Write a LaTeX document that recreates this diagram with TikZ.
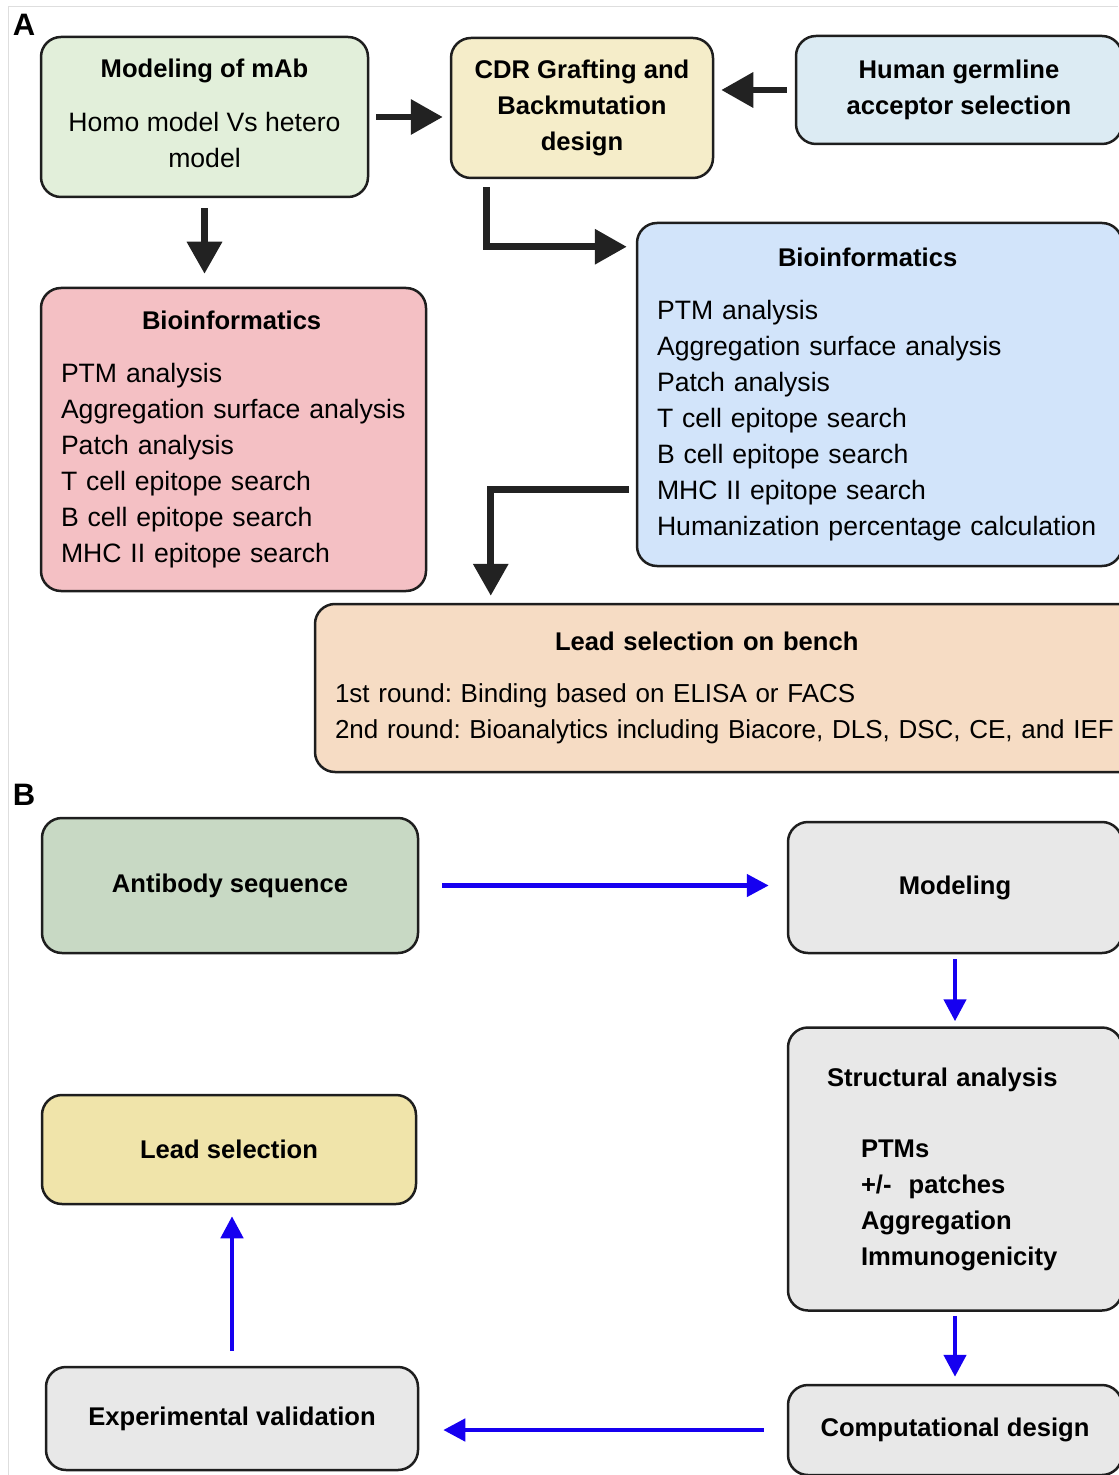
\documentclass[tikz,border=0pt]{standalone}
\usepackage{fontspec}
\setmainfont{Liberation Sans}
\usepackage{xcolor}
\usepackage{tikz}
\usetikzlibrary{arrows.meta,positioning}
\definecolor{boxline}{RGB}{30,30,30}
\definecolor{arrowblack}{RGB}{34,34,34}
\definecolor{flowblue}{RGB}{22,0,240}
\definecolor{framegray}{RGB}{222,222,222}
\definecolor{mabgreen}{RGB}{226,239,218}
\definecolor{cdryellow}{RGB}{245,237,201}
\definecolor{germblue}{RGB}{220,235,243}
\definecolor{biopink}{RGB}{244,192,196}
\definecolor{bioblue}{RGB}{210,228,250}
\definecolor{leadpeach}{RGB}{246,220,196}
\definecolor{seqgreen}{RGB}{200,217,196}
\definecolor{stepgray}{RGB}{232,232,232}
\definecolor{selyellow}{RGB}{240,228,170}

\newcommand{\hd}[1]{{\fontsize{12.8}{18}\selectfont\bfseries #1}}
\frenchspacing

\tikzset{
    box/.style={draw=boxline, line width=1.25pt, rounded corners=10pt,
        inner sep=0pt, align=center, font=\fontsize{13.3}{18}\selectfont},
    headbox/.style={box, font=\fontsize{12.8}{18}\selectfont\bfseries},
    listbox/.style={box, align=left, inner xsep=10pt},
    bigarrow/.style={draw=arrowblack, line width=3.3pt,
        -{Triangle[length=16pt,width=17pt]}},
    flowarrow/.style={draw=flowblue, line width=2.3pt,
        -{Triangle[length=11pt,width=11pt]}},
}

\begin{document}
\begin{tikzpicture}[x=0.5pt, y=-0.5pt]
\useasboundingbox (0,0) rectangle (1118,1475);
\draw[framegray, line width=0.5pt] (8,1475) -- (8,7) -- (1118,7);

\node[font=\fontsize{15.5}{18}\selectfont\bfseries] (panelA) at (24,25) {A};
\node[font=\fontsize{15.5}{18}\selectfont\bfseries] (panelB) at (24,795) {B};

\node[
    box,
    fill=mabgreen,
    text depth=4pt,
    minimum width=163.5pt,
    minimum height=80pt
] (mab) at (204.5,117) {\hd{Modeling of mAb}\\[9pt]Homo model Vs hetero\\model};

\node[
    headbox,
    fill=cdryellow,
    minimum width=131pt,
    minimum height=70pt
] (cdr) at (582,108) {CDR Grafting and\\Backmutation\\design};

\node[
    headbox,
    fill=germblue,
    minimum width=163pt,
    minimum height=54pt
] (germ) at (959,90) {Human germline\\acceptor selection};

\node[
    listbox,
    fill=biopink,
    text width=172.5pt,
    minimum height=151.5pt
] (bioL) at (233.5,439.5) {\hspace*{40.5pt}\hd{Bioinformatics}\\[8.5pt]
    PTM analysis\\Aggregation surface analysis\\Patch analysis\\
    T cell epitope search\\B cell epitope search\\MHC II epitope search};

\node[
    listbox,
    fill=bioblue,
    text width=222.5pt,
    minimum height=171.5pt
] (bioR) at (879.5,394.5) {\hspace*{60.5pt}\hd{Bioinformatics}\\[8.5pt]
    PTM analysis\\Aggregation surface analysis\\Patch analysis\\
    T cell epitope search\\B cell epitope search\\MHC II epitope search\\
    Humanization percentage calculation};

\node[
    listbox,
    fill=leadpeach,
    font=\fontsize{13}{18}\selectfont,
    text width=420pt,
    minimum height=84pt
] (lead) at (755,688) {\hspace*{110pt}\hd{Lead selection on bench}\\[8pt]
    1st round: Binding based on ELISA or FACS\\
    2nd round: Bioanalytics including Biacore, DLS, DSC, CE, and IEF};

\draw[bigarrow, shorten <=3.5pt, shorten >=3.5pt] (mab.east) -- (mab.east -| cdr.west);
\draw[bigarrow, shorten <=4pt, shorten >=3.5pt] (germ.west) -- (germ.west -| cdr.east);
\draw[bigarrow, shorten <=5pt, shorten >=6.5pt] (mab.south) -- (mab.south |- bioL.north);
\draw[bigarrow] ([xshift=18.5pt,yshift=-4pt]cdr.south west)
    |- ([xshift=-4.5pt,yshift=-12.5pt]bioR.north west);
\draw[bigarrow] ([xshift=-3.5pt,yshift=-134pt]bioR.north west)
    -| ([xshift=88.5pt,yshift=3.5pt]lead.north west);

\node[
    headbox,
    fill=seqgreen,
    minimum width=188pt,
    minimum height=67.5pt
] (seq) at (230,885.5) {Antibody sequence};

\node[
    headbox,
    fill=stepgray,
    minimum width=167pt,
    minimum height=65.5pt
] (model) at (955,887.5) {Modeling};

\node[
    headbox,
    fill=stepgray,
    align=left,
    text width=128pt,
    inner xsep=19.5pt,
    minimum height=141.5pt,
    below=36pt of model
] (struct) {Structural analysis\\[17.5pt]
    \hspace*{17pt}PTMs\\\hspace*{17pt}+/-~ patches\\
    \hspace*{17pt}Aggregation\\\hspace*{17pt}Immunogenicity};

\node[
    headbox,
    fill=stepgray,
    minimum width=167pt,
    minimum height=45pt,
    below=36pt of struct
] (comp) {Computational design};

\node[
    headbox,
    fill=stepgray,
    minimum width=186pt,
    minimum height=51.5pt
] (exper) at (232,1418.5) {Experimental validation};

\node[
    headbox,
    fill=selyellow,
    minimum width=187pt,
    minimum height=54.5pt
] (select) at (229,1149.5) {Lead selection};

\draw[flowarrow, shorten <=11.5pt, shorten >=9pt] (seq.east) -- (seq.east -| model.west);
\draw[flowarrow, shorten <=2.5pt, shorten >=2.5pt] (model.south) -- (struct.north);
\draw[flowarrow, shorten <=2pt, shorten >=3.5pt] (struct.south) -- (comp.north);
\draw[flowarrow, shorten <=11.5pt, shorten >=12pt] (comp.west) -- (comp.west -| exper.east);
\draw[flowarrow, shorten <=7.5pt, shorten >=5.5pt] (exper.north) -- (exper.north |- select.south);
\end{tikzpicture}
\end{document}
